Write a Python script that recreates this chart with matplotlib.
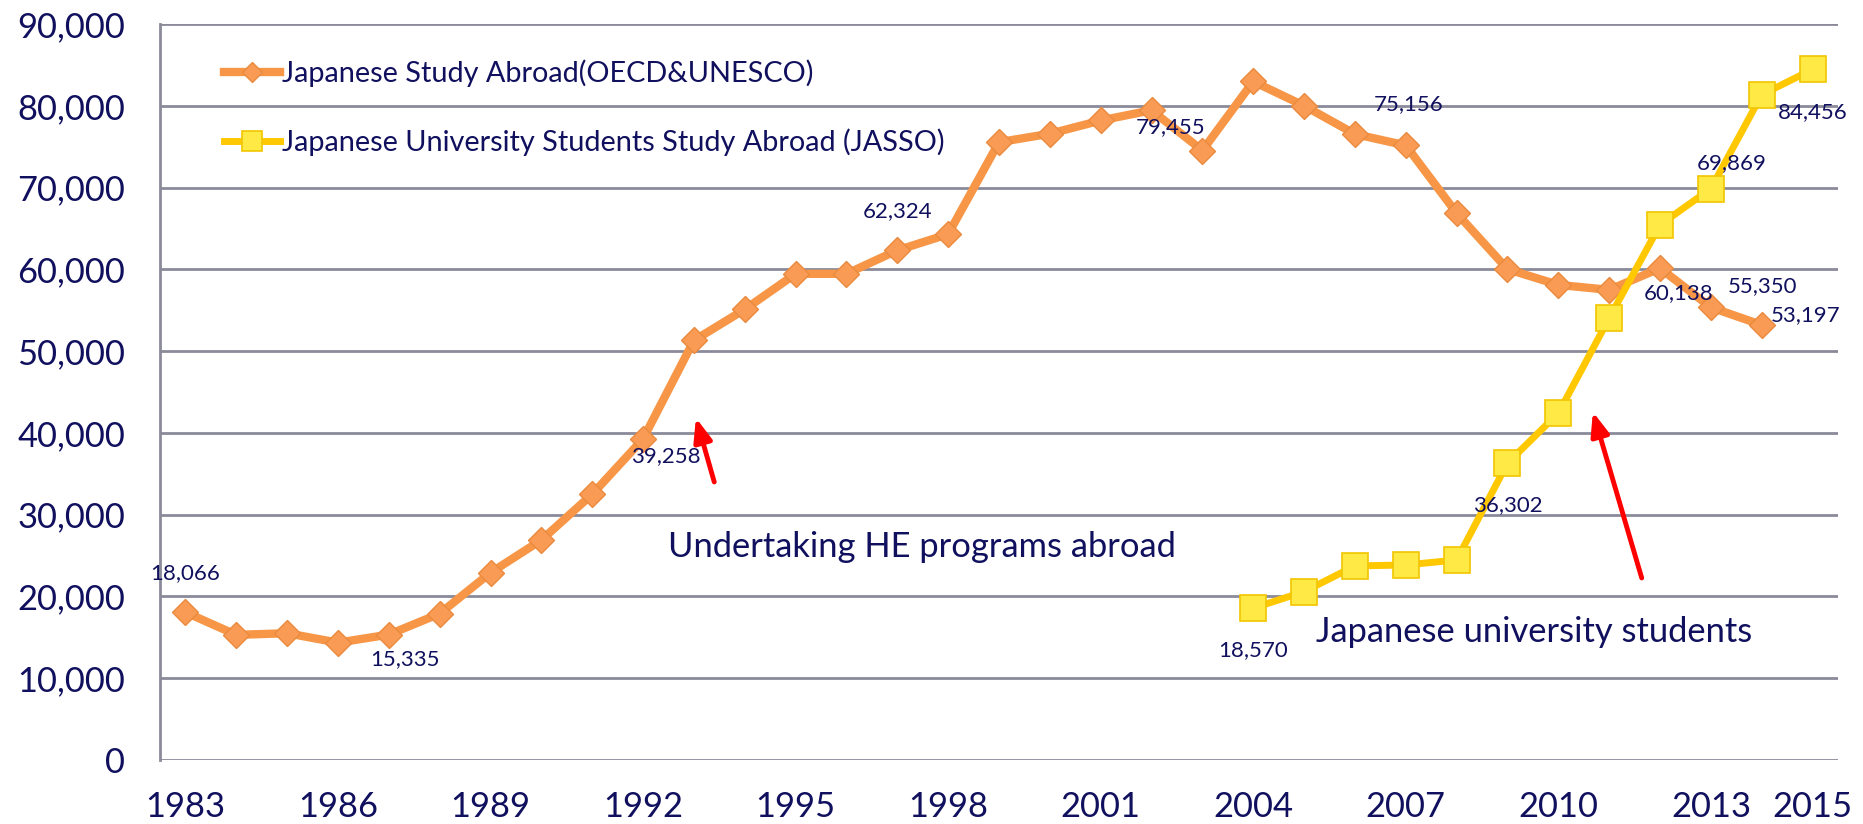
import matplotlib.pyplot as plt
from matplotlib.ticker import FuncFormatter

# years on the x axis
years = list(range(1983, 2016))
tick_years = [1983, 1986, 1989, 1992, 1995, 1998, 2001, 2004, 2007, 2010, 2013, 2015]

# Japanese Study Abroad (OECD&UNESCO), 1983-2014
oecd_years = list(range(1983, 2015))
oecd = [18066, 15300, 15500, 14350, 15335, 17900, 22900, 26900, 32500, 39258,
        51300, 55100, 59450, 59450, 62324, 64300, 75550, 76580, 78200, 79455,
        74530, 82970, 80000, 76540, 75156, 66870, 60020, 58100, 57490, 60138,
        55350, 53197]

# Japanese University Students Study Abroad (JASSO), 2004-2015
jasso_years = list(range(2004, 2016))
jasso = [18570, 20590, 23730, 23850, 24460, 36302, 42410, 54030, 65440, 69869,
         81350, 84456]

# which points get a value label, and where the label sits (pixel offset)
oecd_labels = {1983: (0, 39), 1987: (16, -24), 1992: (23, -17), 1997: (0, 39),
               2002: (19, -17), 2007: (3, 41), 2012: (19, -25), 2013: (52, 21),
               2014: (44, 10)}
jasso_labels = {2004: (0, -42), 2009: (0, -42), 2013: (21, 26), 2015: (0, -43)}

NAVY = "#10105e"
FONT = ["Lato", "DejaVu Sans"]
plt.rcParams["font.family"] = FONT

fig = plt.figure(figsize=(18.63, 8.24), dpi=100)
ax = fig.add_axes([160 / 1863, 64 / 824, 1678 / 1863, 736 / 824])

ax.plot(oecd_years, oecd, color="#f79646", lw=6, marker="D", ms=13.5,
        mfc="#f99b55", mec="#ea8a3e", mew=1, zorder=3,
        label="Japanese Study Abroad(OECD&UNESCO)")
ax.plot(jasso_years, jasso, color="#ffc800", lw=5, marker="s", ms=19,
        mfc="#ffea45", mec="#f2c500", mew=1.2, zorder=4,
        label="Japanese University Students Study Abroad (JASSO)")

for yrs, vals, labs in [(oecd_years, oecd, oecd_labels), (jasso_years, jasso, jasso_labels)]:
    for yr, v in zip(yrs, vals):
        if yr in labs:
            ax.annotate(f"{v:,}", (yr, v), xytext=labs[yr], textcoords="offset pixels",
                        ha="center", va="center", fontsize=16, color=NAVY, zorder=6)

# red arrows and notes
ax.annotate("", xy=(1993.04, 41835), xytext=(1993.40, 34000),
            arrowprops=dict(arrowstyle="-|>,head_length=1.4,head_width=0.55",
                            color="red", lw=3.5, shrinkA=0, shrinkB=0), zorder=5)
ax.annotate("", xy=(2010.68, 42570), xytext=(2011.64, 22260),
            arrowprops=dict(arrowstyle="-|>,head_length=1.4,head_width=0.55",
                            color="red", lw=3.5, shrinkA=0, shrinkB=0), zorder=5)
ax.text(1992.5, 26050, "Undertaking HE programs abroad", fontsize=24.8,
        color=NAVY, va="center", ha="left")
ax.text(2005.24, 15660, "Japanese university students", fontsize=24.8,
        color=NAVY, va="center", ha="left")

ax.set_xlim(1982.5, 2015.5)
ax.set_ylim(0, 90000)
ax.set_xticks(tick_years)
ax.set_yticks(range(0, 90001, 10000))
ax.yaxis.set_major_formatter(FuncFormatter(lambda v, p: f"{int(v):,}"))
ax.tick_params(length=0, labelsize=24.8, colors=NAVY)
ax.tick_params(axis="y", pad=25)
ax.tick_params(axis="x", pad=22)

ax.grid(axis="y", color="#8a8a9a", lw=2)
ax.set_axisbelow(True)
for s in ["top", "right", "bottom"]:
    ax.spines[s].set_visible(False)
ax.spines["left"].set_color("#8a8a9a")
ax.spines["left"].set_linewidth(2)

leg = ax.legend(loc="upper left", bbox_to_anchor=(0.038, 0.952), frameon=False,
                fontsize=20.8, handlelength=1.95, handletextpad=0.05, labelspacing=1.45,
                borderpad=0, borderaxespad=0, markerscale=0.75, labelcolor=NAVY)

fig.savefig("out.png", dpi=100)
